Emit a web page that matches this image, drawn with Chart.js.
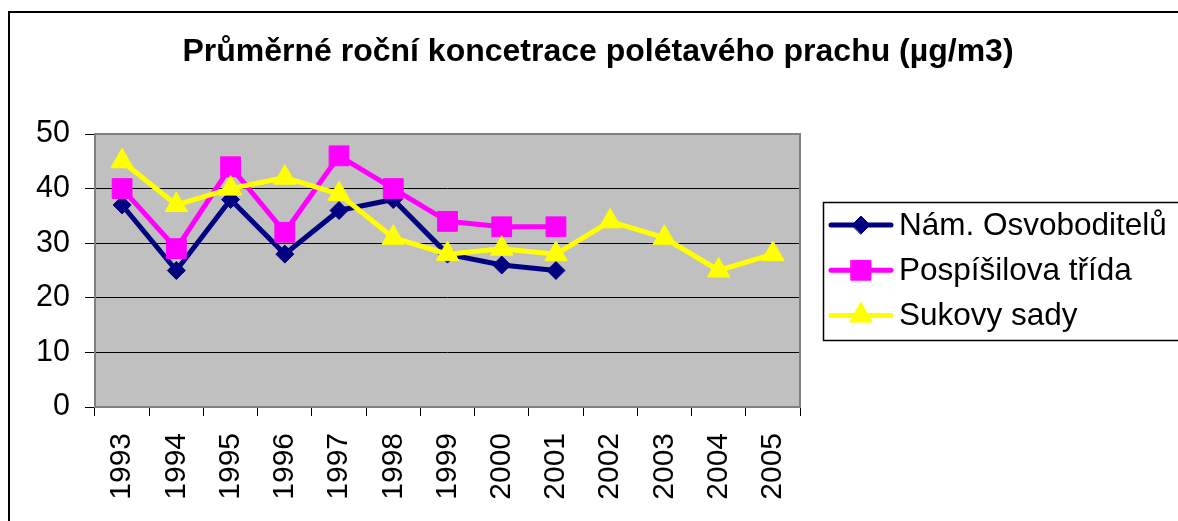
<!DOCTYPE html>
<html>
<head>
<meta charset="utf-8">
<script src="https://cdn.jsdelivr.net/npm/chart.js@4.4.0/dist/chart.umd.min.js"></script>
<style>
  html, body { margin: 0; padding: 0; background: #fff; overflow: hidden; }
  #wrap { position: relative; width: 1178px; height: 521px; }
  #frame { position: absolute; left: 8px; top: 11px; width: 1300px; height: 700px;
           border-left: 2px solid #000; border-top: 2px solid #000; }
  canvas { position: absolute; left: 0; top: 0; }
</style>
</head>
<body>
<div id="wrap">
  <div id="frame"></div>
  <canvas id="c" width="1178" height="521"></canvas>
</div>
<script>
const years = ['1993','1994','1995','1996','1997','1998','1999','2000','2001','2002','2003','2004','2005'];
const namOsvoboditelu = [37, 25, 38, 28, 36, 38, 28, 26, 25, null, null, null, null];
const pospisilovaTrida = [40, 29, 44, 32, 46, 40, 34, 33, 33, null, null, null, null];
const sukovySady = [45, 37, 40, 42, 39, 31, 28, 29, 28, 34, 31, 25, 28];
const seriesNames = ['Nám. Osvoboditelů', 'Pospíšilova třída', 'Sukovy sady'];
const yTicks = [0, 10, 20, 30, 40, 50];
const titleText = 'Průměrné roční koncetrace polétavého prachu (µg/m3)';

const FONT = '"Liberation Sans", Arial, sans-serif';

const plotFrame = {
  id: 'plotFrame',
  beforeDraw(chart) {
    const a = chart.chartArea, ctx = chart.ctx;
    ctx.save();
    ctx.fillStyle = '#C0C0C0';
    ctx.fillRect(a.left, a.top, a.right - a.left, a.bottom - a.top);
    ctx.restore();
  },
  beforeDatasetsDraw(chart) {
    const a = chart.chartArea, ctx = chart.ctx;
    ctx.save();
    ctx.strokeStyle = '#808080';
    ctx.lineWidth = 2;
    ctx.strokeRect(a.left, a.top, a.right - a.left, a.bottom - a.top);
    ctx.restore();
  }
};

const boxLegend = {
  id: 'boxLegend',
  afterDraw(chart) {
    const ctx = chart.ctx;
    ctx.save();
    ctx.strokeStyle = '#000';
    ctx.lineWidth = 1.5;
    ctx.strokeRect(823.5, 202.5, 400, 138);
    chart.data.datasets.forEach((ds, i) => {
      const y = 225 + i * 45.3;
      ctx.strokeStyle = ds.borderColor;
      ctx.lineWidth = 5;
      ctx.lineCap = 'round';
      ctx.beginPath();
      ctx.moveTo(831, y);
      ctx.lineTo(891, y);
      ctx.stroke();
      ctx.fillStyle = ds.backgroundColor;
      ctx.strokeStyle = ds.borderColor;
      ctx.lineWidth = 1;
      Chart.helpers.drawPoint(ctx, { pointStyle: ds.pointStyle, radius: ds.pointRadius, borderWidth: 1, rotation: 0 }, 861, y);
      ctx.fillStyle = '#000';
      ctx.font = '31.5px ' + FONT;
      ctx.textBaseline = 'middle';
      ctx.textAlign = 'left';
      ctx.fillText(ds.label, 899, y + 1);
    });
    ctx.restore();
  }
};

new Chart(document.getElementById('c'), {
  type: 'line',
  data: {
    labels: years,
    datasets: [
      { label: seriesNames[0], data: namOsvoboditelu, borderColor: '#000080', backgroundColor: '#000080',
        pointStyle: 'rectRot', pointRadius: 9, order: 3 },
      { label: seriesNames[1], data: pospisilovaTrida, borderColor: '#FF00FF', backgroundColor: '#FF00FF',
        pointStyle: 'rect', pointRadius: 14, order: 2 },
      { label: seriesNames[2], data: sukovySady, borderColor: '#FFFF00', backgroundColor: '#FFFF00',
        pointStyle: 'triangle', pointRadius: 13, order: 1 }
    ].map(d => Object.assign({ borderWidth: 5, pointBorderWidth: 1, pointHoverRadius: d.pointRadius, tension: 0, spanGaps: false }, d))
  },
  options: {
    responsive: false,
    devicePixelRatio: 1,
    animation: false,
    layout: { padding: { left: 18, right: 0, top: 0, bottom: 0 } },
    plugins: {
      legend: { display: false },
      tooltip: { enabled: false },
      title: {
        display: true,
        text: titleText,
        color: '#000',
        font: { family: FONT, size: 32, weight: 'bold', lineHeight: 1.2 },
        padding: { top: 33, bottom: 62.6 }
      }
    },
    scales: {
      x: {
        type: 'category',
        offset: true,
        border: { display: false },
        grid: { offset: true, drawOnChartArea: false, drawTicks: true, tickLength: 9, tickColor: '#000', lineWidth: 1 },
        ticks: { color: '#000', font: { family: FONT, size: 30 }, minRotation: 90, maxRotation: 90, padding: 17, autoSkip: false },
        afterFit(s) { s.height = 114; }
      },
      y: {
        min: 0, max: 50,
        border: { display: false },
        afterBuildTicks(s) { s.ticks = yTicks.map(v => ({ value: v })); },
        grid: { color: '#000', lineWidth: 1, tickLength: 10, tickColor: '#000' },
        ticks: { color: '#000', font: { family: FONT, size: 30.5 }, padding: 15 },
        afterFit(s) { s.width = 77; }
      },
      yRight: {
        position: 'right',
        display: true,
        grid: { display: false },
        border: { display: false },
        ticks: { display: false },
        afterFit(s) { s.width = 378; }
      }
    }
  },
  plugins: [plotFrame, boxLegend]
});
</script>
</body>
</html>
